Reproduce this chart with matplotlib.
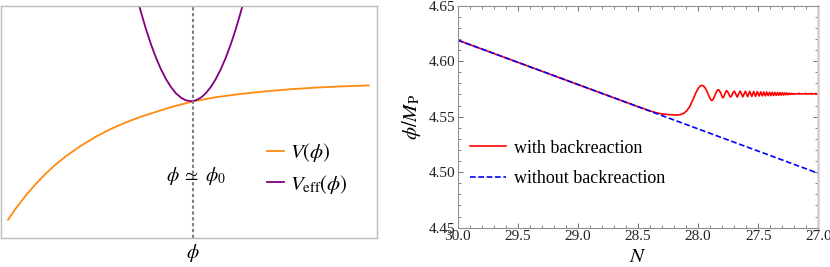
import numpy as np
import matplotlib.pyplot as plt
from matplotlib.ticker import MultipleLocator, FormatStrFormatter

plt.rcParams['font.family'] = 'Liberation Serif'
plt.rcParams['mathtext.fontset'] = 'stix'

# ------------------------------
# Left panel: schematic potentials (arbitrary units)
# ------------------------------
phi_V = [7, 15, 25, 35, 45, 55, 65, 80, 95, 110, 125, 140, 155, 170, 192,
         215, 240, 265, 290, 315, 340, 368]
V = [18, 29.5, 42.5, 54, 64.3, 73.5, 81.5, 92, 101, 108.8, 115.4, 121, 125.8,
     130.5, 136.3, 140.5, 143.8, 146.4, 148.5, 150.1, 151.3, 152.3]

phi_eff = [130, 135, 140, 145, 150, 155, 160, 165, 170, 175, 180, 185, 190,
           195, 200, 205, 210, 215, 220, 225, 230, 235, 240, 245, 250]
V_eff = [265, 244.5, 225.8, 208.8, 193.6, 180.2, 168.6, 158.8, 150.8, 144.5,
         140.1, 137.4, 136.5, 137.4, 140.1, 144.5, 150.8, 158.8, 168.6, 180.2,
         193.6, 208.8, 225.8, 244.5, 265]
phi0 = 192

# ------------------------------
# Right panel: field evolution
# ------------------------------
N_blue = [30.0, 27.0]
phi_blue = [4.619, 4.499]

N_red = [30.0, 28.5, 28.4, 28.35, 28.3, 28.25, 28.2, 28.175, 28.15, 28.12,
         28.095, 28.07, 28.04, 28.02, 28.0, 27.985, 27.97, 27.955, 27.94,
         27.925, 27.91, 27.897, 27.887, 27.877, 27.865, 27.85, 27.838, 27.832,
         27.825, 27.81, 27.8, 27.795, 27.788, 27.778, 27.768, 27.762, 27.755,
         27.745, 27.735, 27.729, 27.722, 27.712, 27.699,
         27.674, 27.650, 27.628, 27.607, 27.588, 27.570, 27.553, 27.537,
         27.522, 27.507, 27.493, 27.479, 27.466, 27.453, 27.441, 27.429,
         27.417, 27.405, 27.394, 27.383, 27.372, 27.361, 27.350, 27.339,
         27.329, 27.319, 27.309, 27.299, 27.289, 27.279, 27.270, 27.261,
         27.252, 27.243, 27.234, 27.225, 27.216, 27.207, 27.198,
         27.19, 27.17, 27.16, 27.155, 27.15, 27.12, 27.105, 27.1, 27.095,
         27.07, 27.06, 27.055, 27.05, 27.03, 27.02, 27.015, 27.01, 27.0]
phi_red = [4.619, 4.559, 4.5553, 4.5536, 4.5525, 4.5519, 4.5516, 4.5515,
           4.5518, 4.5530, 4.5552, 4.5590, 4.5660, 4.5712, 4.5752, 4.5774,
           4.5783, 4.5777, 4.5757, 4.5725, 4.5686, 4.5657, 4.5645, 4.5652,
           4.5680, 4.5720, 4.5740, 4.5743, 4.5739, 4.5710, 4.5680, 4.5670,
           4.5675, 4.5703, 4.5728, 4.5734, 4.5727, 4.5705, 4.5683, 4.5678,
           4.5685, 4.5712, 4.5730,
           4.5677, 4.5731, 4.5679, 4.5729, 4.5681, 4.5728, 4.5683, 4.5727,
           4.5684, 4.5726, 4.5686, 4.5724, 4.5687, 4.5723, 4.5688, 4.5722,
           4.5689, 4.5721, 4.5690, 4.5720, 4.5691, 4.5719, 4.5692, 4.5718,
           4.5693, 4.5717, 4.5694, 4.5716, 4.5695, 4.5715, 4.5697, 4.5713,
           4.5698, 4.5712, 4.5700, 4.5710, 4.5701, 4.5709, 4.5703,
           4.5706, 4.5706, 4.5711, 4.5703, 4.5706, 4.5706, 4.5710, 4.5702,
           4.5706, 4.5706, 4.5709, 4.5703, 4.5706, 4.5706, 4.5710, 4.5703,
           4.5706, 4.5706]

fig = plt.figure(figsize=(8.3, 2.67), dpi=100)

# Left panel
ax1 = fig.add_axes([0.0012, 0.1097, 0.4527, 0.8689])
ax1.plot(phi_V, V, color='#ff8a0f', lw=1.3, label=r'$V(\phi)$')
ax1.plot(phi_eff, V_eff, color='#800080', lw=1.3, label=r'$V_{\mathrm{eff}}(\phi)$')
ax1.axvline(phi0, color='#808080', lw=1.5, dashes=(1.6, 1.2))
ax1.set_xlim(0, 376)
ax1.set_ylim(0, 232)
ax1.set_xticks([])
ax1.set_yticks([])
for s in ax1.spines.values():
    s.set_color('#bcbcbc')
    s.set_linewidth(1.0)
ax1.text(phi0 + 3, 62, r'$\phi\;\simeq\;\phi_0$', ha='center', va='center', fontsize=14)
ax1.text(phi0, -15, r'$\phi$', ha='center', va='center', fontsize=14, clip_on=False)
ax1.legend(loc='center left', bbox_to_anchor=(0.708, 0.298), frameon=False,
           fontsize=15, handlelength=0.8, handletextpad=0.3,
           labelspacing=0.4, borderpad=0, borderaxespad=0)

# Right panel
ax2 = fig.add_axes([0.5514, 0.1472, 0.4345, 0.8315])
ax2.plot(N_red, phi_red, color='#ff0000', lw=1.2, label='with backreaction')
ax2.plot(N_blue, phi_blue, color='#0000ff', lw=1.2, dashes=(3.4, 1.6),
         label='without backreaction')
ax2.set_xlim(30, 27)
ax2.set_ylim(4.45, 4.65)
ax2.xaxis.set_major_locator(MultipleLocator(0.5))
ax2.xaxis.set_minor_locator(MultipleLocator(0.1))
ax2.yaxis.set_major_locator(MultipleLocator(0.05))
ax2.yaxis.set_minor_locator(MultipleLocator(0.01))
ax2.xaxis.set_major_formatter(FormatStrFormatter('%.1f'))
ax2.yaxis.set_major_formatter(FormatStrFormatter('%.2f'))
ax2.tick_params(which='both', direction='in', top=True, right=True,
                color='#555555', labelsize=11, labelcolor='#222222')
ax2.tick_params(which='major', length=3.5, width=0.6, pad=1.5)
ax2.tick_params(which='minor', length=2, width=0.5)
for s in ax2.spines.values():
    s.set_color('#909090')
    s.set_linewidth(0.8)
ax2.spines['right'].set_color('#cfcfcf')
ax2.spines['right'].set_linewidth(1.8)
ax2.set_xlabel(r'$N$', fontsize=15, labelpad=3.5)
ax2.set_ylabel(r'$\phi/M_{\mathrm{P}}$', fontsize=15, labelpad=4)
ax2.legend(loc='center left', bbox_to_anchor=(0.035, 0.29), frameon=False,
           fontsize=13, handlelength=2.0, handletextpad=0.4,
           labelspacing=0.75, borderpad=0, borderaxespad=0)

fig.savefig('out.png', dpi=100)
